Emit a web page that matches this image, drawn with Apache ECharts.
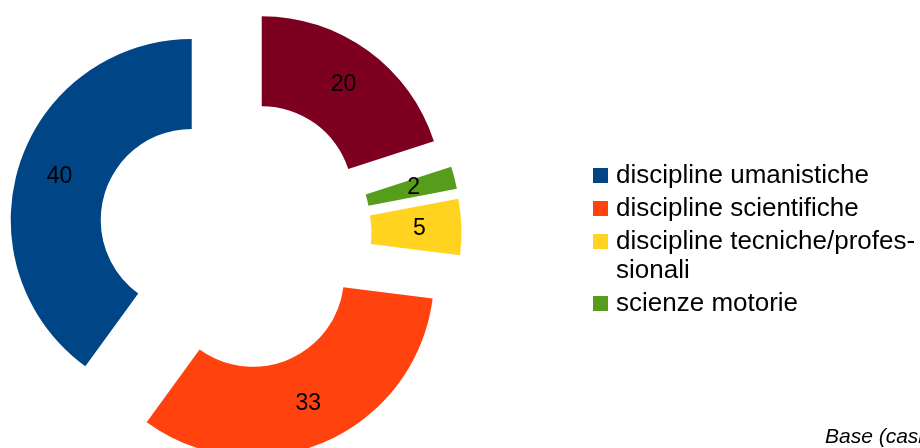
<!DOCTYPE html>
<html>
<head>
<meta charset="utf-8">
<script src="https://cdn.jsdelivr.net/npm/echarts@6/dist/echarts.min.js"></script>
<style>
html,body{margin:0;padding:0;background:#fff;}
#chart{width:920px;height:448px;}
</style>
</head>
<body>
<div id="chart"></div>
<script>
// Data (clockwise from 12 o'clock)
var sliceNames = ['non indicato', 'scienze motorie', 'discipline tecniche/professionali', 'discipline scientifiche', 'discipline umanistiche'];
var sliceValues = [20, 2, 5, 33, 40];
var sliceColors = ['#7e0021', '#579d1c', '#ffd320', '#ff420e', '#004586'];
var legendNames = ['discipline umanistiche', 'discipline scientifiche', 'discipline tecniche/professionali', 'scienze motorie'];
var legendLabels = ['discipline umanistiche', 'discipline scientifiche', 'discipline tecniche/profes-\nsionali', 'scienze motorie'];
var footnote = 'Base (casi validi)';

var FONT = '"Liberation Sans", Arial, sans-serif';

var chart = echarts.init(document.getElementById('chart'), null, {renderer: 'canvas'});

var data = sliceNames.map(function (n, i) {
  return {
    name: n,
    value: sliceValues[i],
    selected: true,
    itemStyle: {color: sliceColors[i]}
  };
});

function legendFormatter(name) {
  var label = legendLabels[legendNames.indexOf(name)];
  var lines = label.split('\n');
  var s = lines.map(function (l) { return '{a|' + l + '}'; }).join('\n');
  if (lines.length > 1) {
    // empty line above keeps the marker level with the first text line
    s = '{e|}\n' + s;
  }
  return s;
}

var legendText = {
  color: '#000',
  fontSize: 26,
  lineHeight: 29,
  fontFamily: FONT,
  padding: [0, 0, 0, 3],
  rich: {
    a: {color: '#000', fontSize: 26, lineHeight: 29, fontFamily: FONT},
    e: {fontSize: 26, lineHeight: 29}
  }
};

function makeLegend(names, top) {
  return {
    orient: 'vertical',
    left: 588,
    top: top,
    itemWidth: 15,
    itemHeight: 15,
    itemGap: 4,
    icon: 'rect',
    selectedMode: false,
    data: names,
    formatter: legendFormatter,
    textStyle: legendText
  };
}

chart.setOption({
  animation: false,
  backgroundColor: '#ffffff',
  legend: [
    makeLegend(legendNames.slice(0, 2), 156),
    makeLegend(legendNames.slice(2), 193)
  ],
  graphic: [{
    type: 'text',
    left: 825,
    top: 427,
    style: {
      text: footnote,
      fill: '#000',
      font: 'italic 21px "Liberation Sans", Arial, sans-serif'
    }
  }],
  series: [{
    type: 'pie',
    center: [235, 234],
    radius: [91, 181],
    startAngle: 90,
    clockwise: true,
    selectedMode: 'multiple',
    selectedOffset: 45.5,
    avoidLabelOverlap: false,
    emphasis: {disabled: true, scale: false},
    select: {itemStyle: {borderWidth: 0}},
    itemStyle: {borderWidth: 0},
    label: {
      show: true,
      position: 'inside',
      formatter: '{c}',
      color: '#000',
      fontSize: 23,
      fontFamily: FONT,
      textBorderWidth: 0
    },
    labelLine: {show: false},
    data: data
  }]
});
</script>
</body>
</html>
